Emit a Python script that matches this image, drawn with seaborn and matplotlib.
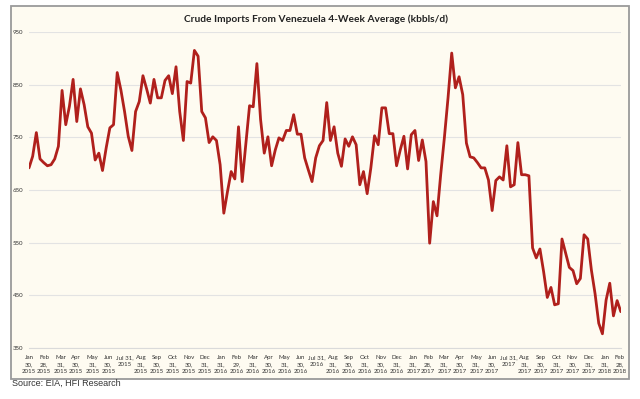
import matplotlib
matplotlib.use("Agg")
import pandas as pd
import seaborn as sns
import matplotlib.pyplot as plt
import matplotlib.patches as mpatches
from matplotlib import font_manager

# weekly 4-week average imports, kbbls/d
start_week = "2015-01-30"
imports_kbbl = [
    692, 714, 759, 709, 702, 696, 698, 709, 733, 839,
    774, 809, 860, 780, 842, 812, 770, 758, 707, 720,
    687, 730, 768, 774, 873, 840, 799, 752, 725, 799,
    818, 867, 842, 815, 860, 825, 825, 858, 867, 833,
    884, 799, 744, 856, 853, 915, 904, 799, 787, 740,
    751, 744, 698, 606, 647, 685, 671, 770, 666, 739,
    810, 808, 890, 784, 720, 751, 696, 726, 749, 744,
    763, 763, 793, 756, 756, 711, 688, 666, 711, 734,
    744, 816, 744, 770, 720, 695, 747, 733, 751, 736,
    660, 685, 643, 692, 753, 736, 806, 806, 757, 757,
    696, 726, 752, 690, 755, 763, 706, 745, 704, 549,
    628, 601, 679, 749, 825, 910, 844, 865, 831, 739,
    713, 711, 702, 692, 692, 669, 611, 668, 675, 669,
    734, 656, 660, 740, 679, 679, 677, 540, 521, 538,
    495, 446, 465, 432, 434, 557, 530, 503, 497, 472,
    482, 565, 557, 498, 453, 397, 377, 441, 473, 411,
    440, 419,
]

tick_dates = [
    "2015-01-30", "2015-02-28", "2015-03-31", "2015-04-30", "2015-05-31", "2015-06-30",
    "2015-07-31", "2015-08-31", "2015-09-30", "2015-10-31", "2015-11-30", "2015-12-31",
    "2016-01-31", "2016-02-29", "2016-03-31", "2016-04-30", "2016-05-31", "2016-06-30",
    "2016-07-31", "2016-08-31", "2016-09-30", "2016-10-31", "2016-11-30", "2016-12-31",
    "2017-01-31", "2017-02-28", "2017-03-31", "2017-04-30", "2017-05-31", "2017-06-30",
    "2017-07-31", "2017-08-31", "2017-09-30", "2017-10-31", "2017-11-30", "2017-12-31",
    "2018-01-31", "2018-02-28",
]
y_ticks = [350, 450, 550, 650, 750, 850, 950]

title = "Crude Imports From Venezuela 4-Week Average (kbbls/d)"
source = "Source: EIA, HFI Research"

df = pd.DataFrame({
    "week": pd.date_range(start_week, periods=len(imports_kbbl), freq="7D"),
    "kbbl": imports_kbbl,
})

sns.set_style("white")
plt.rcParams["font.family"] = ["Lato", "DejaVu Sans"]

# narrow face for the crowded date labels, if there is one
installed = {f.name for f in font_manager.fontManager.ttflist}
if "Liberation Sans Narrow" in installed:
    tick_font, tick_size = "Liberation Sans Narrow", 5.0
else:
    tick_font, tick_size = "Lato", 4.4

fig = plt.figure(figsize=(6.4, 3.99), dpi=100)
fig.patch.set_facecolor("white")

# cream chart panel with grey border
panel = mpatches.Rectangle((0.0172, 0.0501), 0.9656, 0.935, transform=fig.transFigure,
                           facecolor="#FEFBF1", edgecolor="#9A9A9A", linewidth=1.3, zorder=-5)
fig.patches.append(panel)

ax = fig.add_axes([0.0453, 0.1278, 0.9247, 0.792])
ax.set_zorder(2)
ax.set_facecolor("none")

sns.lineplot(data=df, x="week", y="kbbl", color="#B0201C", linewidth=2.0, ax=ax)

ax.set_ylim(350, 950)
ax.set_yticks(y_ticks)
ax.set_xlim(df["week"].iloc[0], df["week"].iloc[-1])

ticks = pd.to_datetime(tick_dates)
labels = []
for d in ticks:
    if d.month == 7:
        labels.append(f"Jul {d.day},\n{d.year}")
    else:
        labels.append(f"{d.strftime('%b')}\n{d.day},\n{d.year}")
ax.set_xticks(ticks)
ax.set_xticklabels(labels, linespacing=1.5, family=[tick_font, "DejaVu Sans"], fontsize=tick_size)
for lab in ax.get_yticklabels():
    lab.set_family([tick_font, "DejaVu Sans"])
    lab.set_fontsize(tick_size)

ax.grid(axis="y", color="#E3E3E3", linewidth=0.8)
ax.grid(axis="x", visible=False)
for s in ["top", "right", "left"]:
    ax.spines[s].set_visible(False)
ax.spines["bottom"].set_color("#DADADA")
ax.spines["bottom"].set_linewidth(0.8)
ax.tick_params(axis="y", length=0, pad=4, colors="#333333")
ax.tick_params(axis="x", length=2, width=0.6, color="#D0D0D0", labelcolor="#333333", pad=3)
ax.set_xlabel("")
ax.set_ylabel("")

fig.text(0.493, 0.951, title, ha="center", va="center", fontsize=7.3, fontweight="bold", color="#222222")
fig.text(0.018, 0.040, source, ha="left", va="center", fontsize=6.5,
         family=["Liberation Sans", "DejaVu Sans"], color="#333333")

fig.savefig("out.png", dpi=100)
